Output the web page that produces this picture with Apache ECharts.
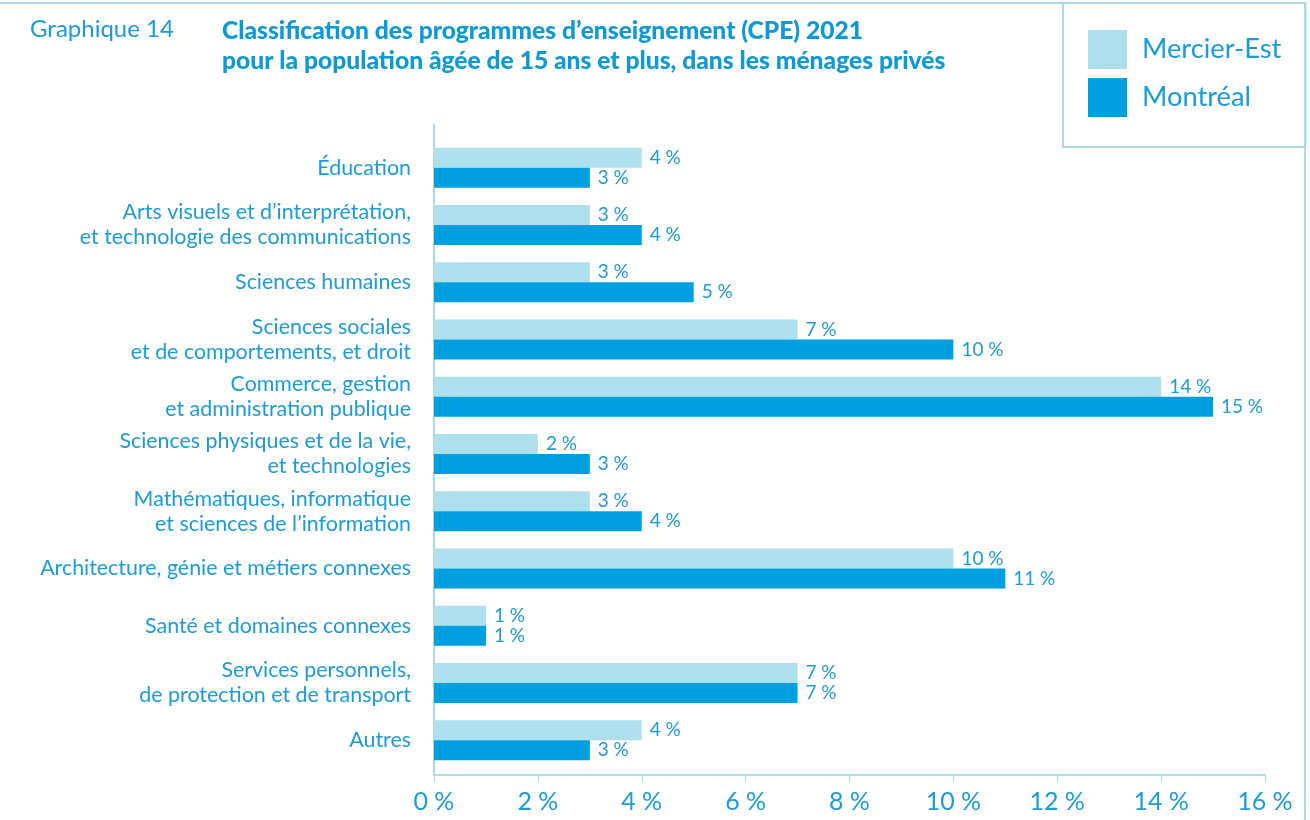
<!DOCTYPE html>
<html>
<head>
<meta charset="utf-8">
<script src="https://cdn.jsdelivr.net/npm/echarts@6/dist/echarts.min.js"></script>
<style>
  html, body { margin: 0; padding: 0; background: #ffffff; }
  #chart { width: 1310px; height: 820px; }
</style>
</head>
<body>
<div id="chart"></div>
<script>
// Fields of study (CPE 2021), top to bottom
const categories = [
  'Éducation',
  'Arts visuels et d’interprétation,\net technologie des communications',
  'Sciences humaines',
  'Sciences sociales\net de comportements, et droit',
  'Commerce, gestion\net administration publique',
  'Sciences physiques et de la vie,\net technologies',
  'Mathématiques, informatique\net sciences de l’information',
  'Architecture, génie et métiers connexes',
  'Santé et domaines connexes',
  'Services personnels,\nde protection et de transport',
  'Autres'
];
// Share of population aged 15+ (%)
const mercierEst = [4, 3, 3, 7, 14, 2, 3, 10, 1, 7, 4];
const montreal = [3, 4, 5, 10, 15, 3, 4, 11, 1, 7, 3];
// Value axis range (%)
const xMin = 0;
const xMax = 16;
const xStep = 2;

const LIGHT = '#addfec';
const DARK = '#009fdf';
const TEXT = '#1b9cd8';
const RULE = '#a9dbe9';
const FONT = 'Lato, "Open Sans", sans-serif';
const NBSP = '\u202f';

const chart = echarts.init(document.getElementById('chart'), null, { renderer: 'canvas' });

const grid = { left: 434, top: 139, width: 831, height: 630 };

const option = {
  animation: false,
  textStyle: { fontFamily: FONT },
  grid: grid,
  title: [
    {
      text: 'Graphique 14',
      left: 30, top: 17, padding: 0,
      textStyle: { fontFamily: FONT, fontSize: 24, fontWeight: 'normal', color: TEXT }
    },
    {
      text: 'Classification des programmes d’enseignement (CPE) 2021\npour la population âgée de 15 ans et plus, dans les ménages privés',
      left: 222, top: 16, padding: 0,
      textStyle: { fontFamily: FONT, fontSize: 24.6, fontWeight: 900, color: '#0c9ad6', lineHeight: 30 }
    }
  ],
  legend: {
    orient: 'vertical',
    left: 1063, top: 3,
    padding: [27, 24, 30, 25],
    itemGap: 9,
    itemWidth: 39,
    itemHeight: 39,
    icon: 'rect',
    borderColor: RULE,
    borderWidth: 2,
    textStyle: { fontFamily: FONT, fontSize: 27.3, color: TEXT, padding: [0, 0, 0, 10] },
    data: ['Mercier-Est', 'Montréal']
  },
  xAxis: {
    type: 'value',
    min: xMin, max: xMax, interval: xStep,
    offset: 6,
    axisLine: { show: true, lineStyle: { color: RULE, width: 2 } },
    axisTick: { show: true, length: 7, lineStyle: { color: RULE, width: 1 } },
    splitLine: { show: false },
    axisLabel: {
      fontFamily: FONT, fontSize: 25, color: TEXT, margin: 14,
      formatter: v => v + NBSP + '%'
    }
  },
  yAxis: {
    type: 'category',
    inverse: true,
    data: categories,
    axisLine: { show: false },
    axisTick: { show: false },
    axisLabel: {
      fontFamily: FONT, fontSize: 21.4, color: TEXT, margin: 23,
      lineHeight: 25, align: 'right'
    }
  },
  series: [
    {
      name: 'Mercier-Est',
      type: 'bar',
      data: mercierEst,
      barWidth: 20,
      barGap: '0%',
      itemStyle: { color: LIGHT },
      label: {
        show: true, position: 'right', distance: 8,
        fontFamily: FONT, fontSize: 19, color: TEXT,
        formatter: p => p.value + NBSP + '%'
      }
    },
    {
      name: 'Montréal',
      type: 'bar',
      data: montreal,
      barWidth: 20,
      itemStyle: { color: DARK },
      label: {
        show: true, position: 'right', distance: 8,
        fontFamily: FONT, fontSize: 19, color: TEXT,
        formatter: p => p.value + NBSP + '%'
      }
    }
  ]
};

chart.setOption(option);

// Frame around the figure and the vertical baseline of the bars
const x0 = chart.convertToPixel({ xAxisIndex: 0 }, xMin);
chart.setOption({
  graphic: [
    {
      type: 'rect', silent: true, z: -1,
      shape: { x: -10, y: 3, width: 1315, height: 900 },
      style: { fill: null, stroke: RULE, lineWidth: 2 }
    },
    {
      type: 'line', silent: true,
      shape: { x1: x0, y1: 124, x2: x0, y2: grid.top + grid.height + 6 },
      style: { stroke: RULE, lineWidth: 2 }
    }
  ]
});
</script>
</body>
</html>
